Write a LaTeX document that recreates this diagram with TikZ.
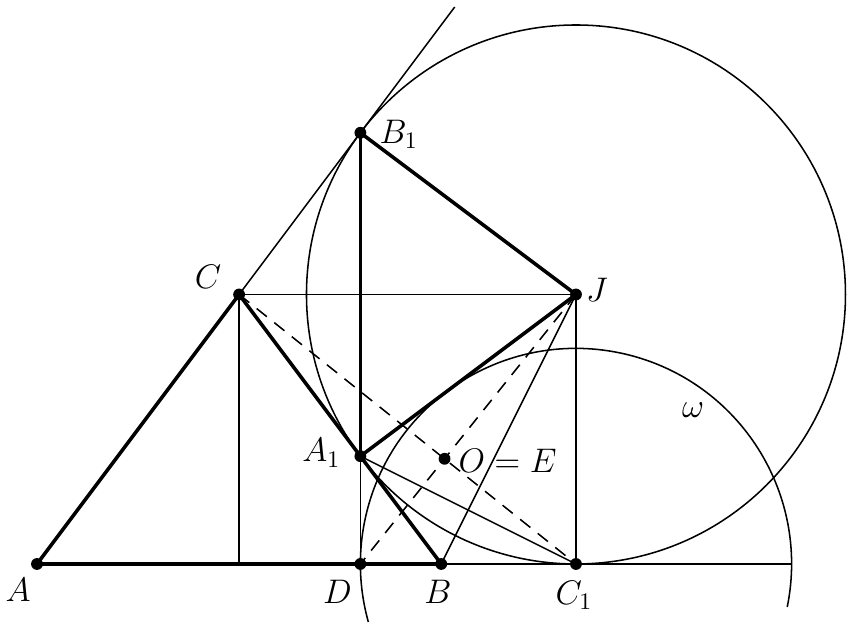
\documentclass[tikz,border=0pt]{standalone}
\usetikzlibrary{calc}
\begin{document}
\begin{tikzpicture}[
  thinl/.style={line width=0.65pt},
  thickl/.style={line width=1.5pt},
  dashl/.style={line width=0.65pt, dash pattern=on 5.5pt off 4pt},
  lbl/.style={inner sep=0pt, font=\fontsize{14.4}{17}\selectfont},
  dotpt/.style={circle, fill=black, inner sep=0pt, minimum size=5pt}
]
\useasboundingbox (-0.549,-0.965) rectangle (12.186,8.371);
\coordinate (A) at (0,0);
\coordinate (B) at (6,0);
\coordinate (C) at (3,4);
\coordinate (D) at (4.8,0);
\coordinate (A1) at (4.8,1.6);
\coordinate (B1) at (4.8,6.4);
\coordinate (J) at (8,4);
\coordinate (C1) at (8,0);
\coordinate (T) at (6.2,8.2667);
\coordinate (R) at (11.2,0);
\coordinate (O) at (intersection of C--C1 and J--D);
\coordinate (CF) at (3,0);
% circles
\draw[thinl] (J) circle (4);
\draw[thinl] (C1) ++(-11.5:3.2) arc[start angle=-11.5, end angle=195.6, radius=3.2];
% thin lines
\draw[thinl] (C) -- (T);
\draw[thinl] (C) -- (J);
\draw[thinl] (C) -- (CF);
\draw[thinl] (J) -- (C1);
\draw[thinl] (A1) -- (D);
\draw[thinl] (J) -- (B);
\draw[thinl] (A1) -- (C1);
\draw[thinl] (B) -- (R);
% dashed
\draw[dashl] (C) -- (C1);
\draw[dashl] (J) -- (D);
% thick
\draw[thickl] (A) -- (B);
\draw[thickl] (A) -- (C);
\draw[thickl] (C) -- (B);
\draw[thickl] (B1) -- (A1);
\draw[thickl] (B1) -- (J);
\draw[thickl] (A1) -- (J);
% dots
\foreach \p in {A,B,C,D,A1,B1,J,C1,O} \node[dotpt] (dot\p) at (\p) {};
% labels
\node[lbl] (lA) at ($(A)+(-0.28,-0.39)$) {$A$};
\node[lbl] (lD) at ($(D)+(-0.34,-0.41)$) {$D$};
\node[lbl] (lB) at ($(B)+(-0.05,-0.41)$) {$B$};
\node[lbl] (lC1) at ($(C1)+(-0.03,-0.46)$) {$C_1$};
\node[lbl] (lA1) at ($(A1)+(-0.58,0.05)$) {$A_1$};
\node[lbl, anchor=west] (lO) at ($(O)+(0.2,-0.03)$) {$O=E$};
\node[lbl] (lB1) at ($(B1)+(0.57,-0.02)$) {$B_1$};
\node[lbl] (lC) at ($(C)+(-0.46,0.26)$) {$C$};
\node[lbl] (lJ) at ($(J)+(0.31,0.07)$) {$J$};
\node[lbl] (lw) at (9.74,2.29) {$\omega$};
\end{tikzpicture}
\end{document}
